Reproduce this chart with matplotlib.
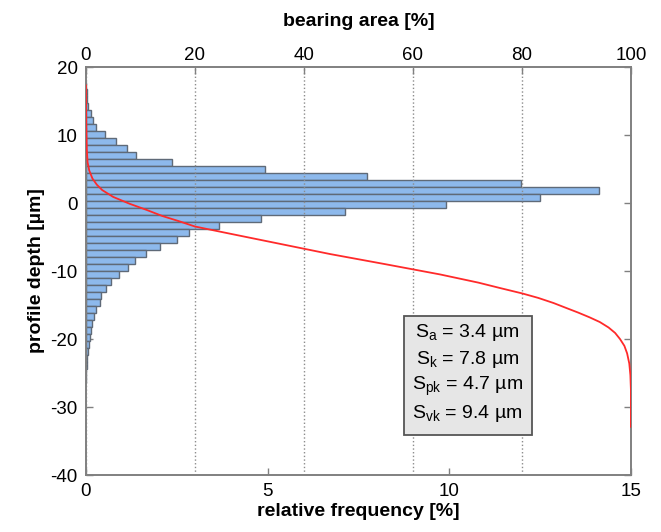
import numpy as np
import matplotlib.pyplot as plt
from matplotlib.patches import Rectangle

plt.rcParams['font.family'] = ['Liberation Sans', 'DejaVu Sans']
plt.rcParams['mathtext.fontset'] = 'custom'
plt.rcParams['mathtext.rm'] = 'Liberation Sans'
plt.rcParams['mathtext.it'] = 'Liberation Sans'
plt.rcParams['mathtext.default'] = 'regular'
plt.rcParams['axes.unicode_minus'] = False

# histogram: bin centre depth [um] and relative frequency [%]
bin_depth = [17.25, 16.22, 15.19, 14.16, 13.13, 12.10, 11.07, 10.04, 9.01, 7.98,
             6.95, 5.92, 4.89, 3.86, 2.83, 1.80, 0.77, -0.26, -1.29, -2.32,
             -3.35, -4.38, -5.41, -6.44, -7.47, -8.50, -9.53, -10.56, -11.59, -12.62,
             -13.65, -14.68, -15.71, -16.74, -17.77, -18.80, -19.83, -20.86, -21.89, -22.92,
             -23.95, -24.98, -26.01]
rel_freq = [0.01, 0.02, 0.03, 0.05, 0.13, 0.20, 0.29, 0.52, 0.83, 1.14,
            1.37, 2.36, 4.93, 7.73, 11.97, 14.12, 12.50, 9.91, 7.13, 4.82,
            3.65, 2.83, 2.52, 2.04, 1.65, 1.35, 1.15, 0.92, 0.69, 0.55,
            0.42, 0.38, 0.28, 0.21, 0.18, 0.14, 0.12, 0.09, 0.05, 0.03,
            0.02, 0.01, 0.01]

# bearing area (Abbott) curve: bearing area [%] vs depth [um]
bearing = [0, 0.05, 0.15, 0.3, 0.6, 1.2, 2.0, 3.0, 5.0, 8.0, 11.1, 14.0, 17.2, 20.0,
           26.4, 35.6, 44.8, 55.0, 65.0, 72.0, 76.0, 80.1, 83.0, 85.8, 88.2, 90.3,
           92.4, 94.3, 95.9, 97.1, 98.0, 98.8, 99.3, 99.7, 99.9, 100.0, 100.0]
bearing_depth = [17.3, 12.0, 8.0, 6.0, 4.8, 3.6, 2.7, 1.9, 0.9, -0.1, -1.0, -1.9, -2.7, -3.45,
                 -4.5, -6.0, -7.5, -9.0, -10.5, -11.7, -12.5, -13.3, -13.95, -14.7, -15.45, -16.1,
                 -16.8, -17.5, -18.3, -19.1, -20.0, -21.0, -22.1, -23.6, -25.3, -27.5, -32.9]

params = ['S$_{a}$ = 3.4 µm', 'S$_{k}$ = 7.8 µm',
          'S$_{pk}$ = 4.7 µm', 'S$_{vk}$ = 9.4 µm']

spine_col = '#808080'

fig = plt.figure(figsize=(6.61, 5.32), dpi=100)
ax = fig.add_axes([0.130, 0.107, 0.8245, 0.767])

ax.barh(bin_depth, rel_freq, height=1.03, color='#8DB9EC',
        edgecolor='#5F6A78', linewidth=1.0, zorder=2)
ax.set_xlim(0, 15)
ax.set_ylim(-40, 20)
ax.set_xticks([0, 5, 10, 15])
ax.set_yticks([-40, -30, -20, -10, 0, 10, 20])
ax.tick_params(direction='in', length=5, width=1, color=spine_col,
               labelsize=13.5, right=True, top=True, pad=6)
ax.set_xlabel('relative frequency [%]', fontsize=14, fontweight='bold', labelpad=2)
ax.set_ylabel('profile depth [µm]', fontsize=14, fontweight='bold', labelpad=4)
for s in ax.spines.values():
    s.set_color(spine_col)
    s.set_linewidth(1.2)

ax2 = ax.twiny()
ax2.plot(bearing, bearing_depth, color='#FF2A2A', linewidth=1.3, zorder=3)
ax2.set_xlim(0, 100)
ax2.set_xticks([0, 20, 40, 60, 80, 100])
ax2.tick_params(direction='in', length=5, width=1, color=spine_col,
                labelsize=13.5, pad=2)
ax2.grid(axis='x', linestyle=':', color='#8C8C8C', linewidth=1.0)
ax2.set_xlabel('bearing area [%]', fontsize=14, fontweight='bold', labelpad=15)
for s in ax2.spines.values():
    s.set_color(spine_col)
    s.set_linewidth(1.2)

# parameter box
ax2.add_patch(Rectangle((0.583, 0.098), 0.235, 0.292, transform=ax2.transAxes,
                        facecolor='#E6E6E6', edgecolor='#555555', linewidth=1.3,
                        zorder=5))
for i, txt in enumerate(params):
    ax2.text(0.700, 0.350 - i * 0.066, txt, transform=ax2.transAxes,
             ha='center', va='center', fontsize=14, zorder=6)

fig.savefig('out.png', dpi=100)
